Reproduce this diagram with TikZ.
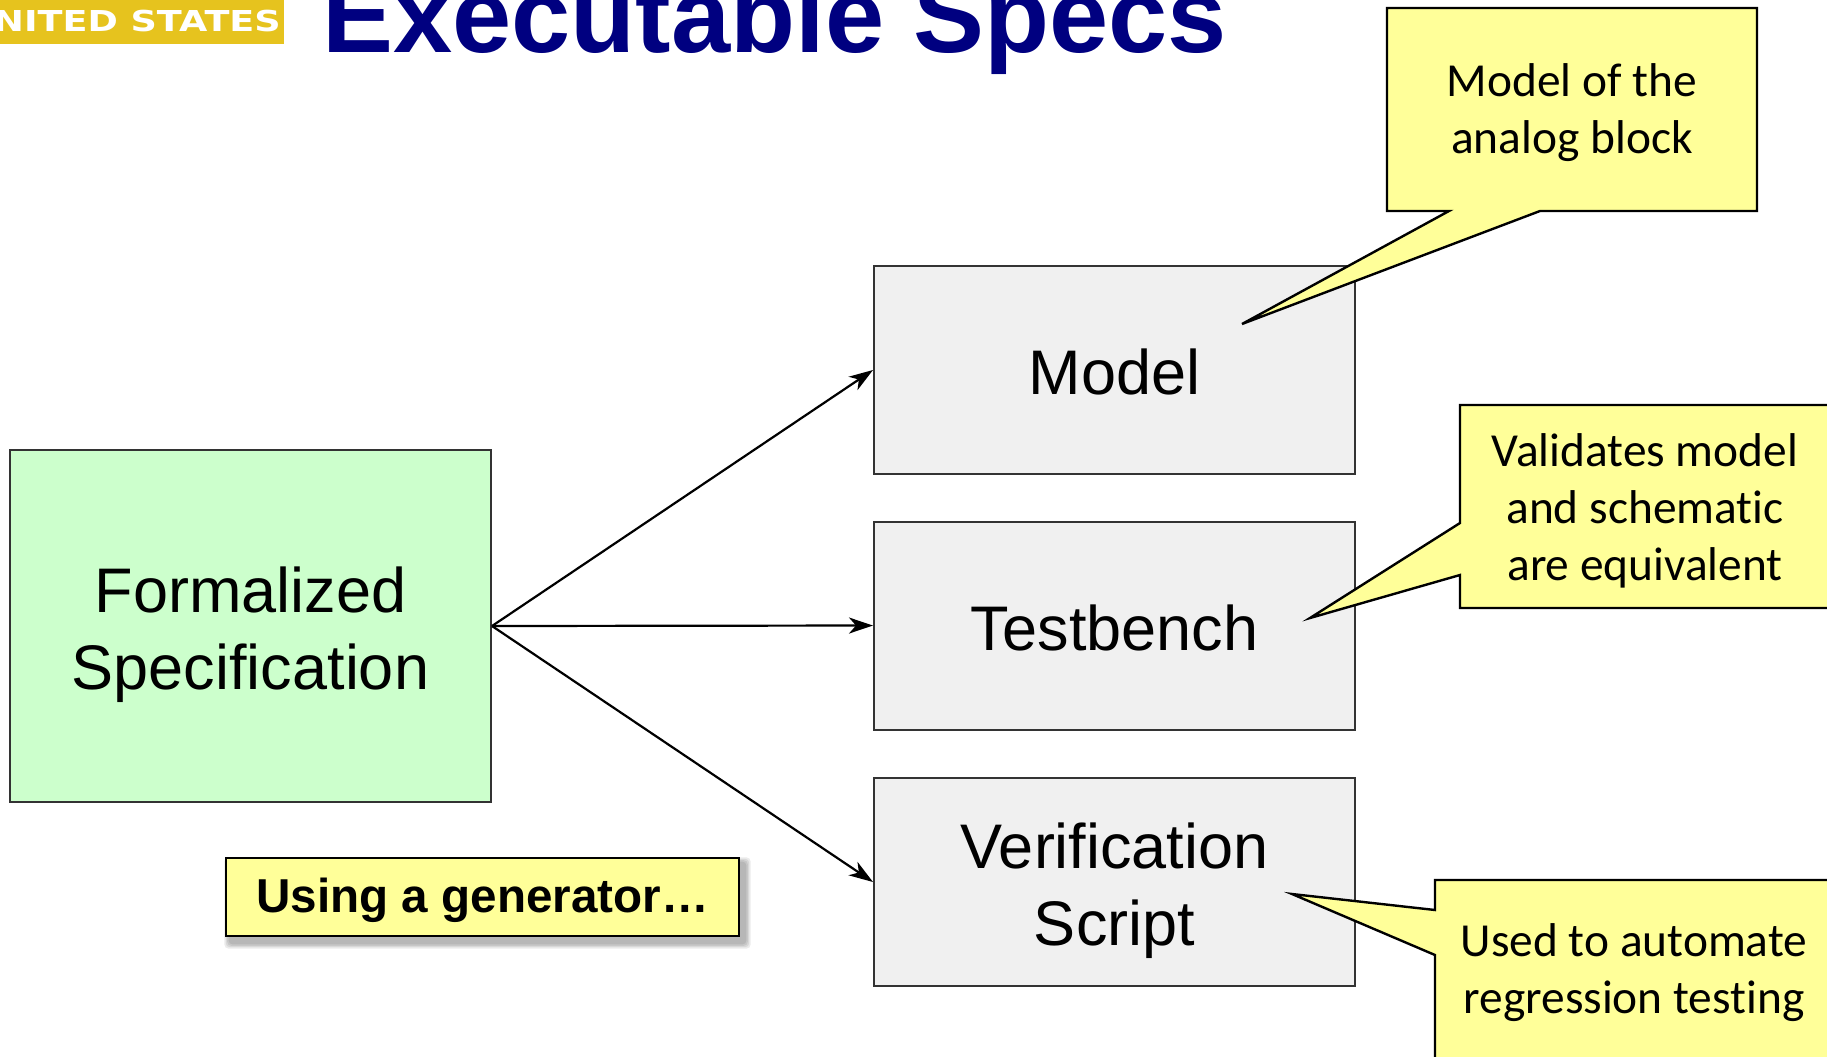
\documentclass[tikz,border=0pt]{standalone}
\usepackage{fontspec}
\usepackage{graphicx}
\setmainfont{Liberation Sans}
\newfontfamily\notefont[Ligatures=CommonOff]{Carlito}
\newfontfamily\logofont{DejaVu Sans}
\usetikzlibrary{arrows.meta,backgrounds}

\definecolor{specgreen}{HTML}{CCFFCC}
\definecolor{blockgray}{HTML}{F0F0F0}
\definecolor{noteyellow}{HTML}{FFFF99}
\definecolor{titlenavy}{HTML}{000080}
\definecolor{logogold}{HTML}{E6C31E}

% strut that lowers the first line of the block labels slightly
\newcommand{\lowstrut}[1]{\rule{0pt}{#1}}

\begin{document}
\begin{tikzpicture}[x=0.5pt, y=-0.5pt,
  boxtext/.style={font=\fontsize{31.5}{38.5}\selectfont},
  block/.style={boxtext, draw=black!80, line width=1pt, fill=blockgray,
    minimum width=240.5pt, minimum height=104pt, inner sep=0pt, align=center},
  flow/.style={draw, line width=1.1pt, -{Stealth[length=12pt,width=8pt,inset=3.5pt]}},
  note/.style={draw=black, line width=1.2pt, fill=noteyellow, line join=miter},
  notetext/.style={inner sep=0pt, align=center,
    font=\notefont\fontsize{23.7}{28.5}\selectfont},
]
\useasboundingbox (0,0) rectangle (1827,1056);
\begin{scope}[on background layer]
  \fill[white] (0,0) rectangle (1827,1056);
\end{scope}

% header strip and title
\fill[logogold] (0,0) rectangle (284,44);
\node[anchor=base west, inner sep=0pt, text=white,
  font=\logofont\bfseries\fontsize{14.4}{14.4}\selectfont] (logo) at (-7,31.5)
  {\scalebox{1.27}[1]{NITED STATES}};
\node[anchor=base west, inner sep=0pt, text=titlenavy,
  font=\bfseries\fontsize{53.2}{60}\selectfont] (title) at (322,52)
  {Executable Specs};

% specification and generated artefacts
\node[boxtext, draw=black!80, line width=1pt, fill=specgreen,
  minimum width=240.5pt, minimum height=176pt, inner sep=0pt, align=center]
  (spec) at (250.5,626) {\lowstrut{32pt}Formalized\\Specification};

\node[block] (model)  at (1114.5,370)   {\lowstrut{25pt}Model};
\node[block] (bench)  at (1114.5,625.5) {\lowstrut{25pt}Testbench};
\node[block] (script) at (1114.5,882)   {\lowstrut{32pt}Verification\\Script};

\draw[flow] (spec.east) -- (model.west);
\draw[flow] (spec.east) -- (bench.west);
\draw[flow] (spec.east) -- (script.west);

% generator label with soft shadow
\node[draw=black, line width=1pt, fill=noteyellow, minimum width=256.5pt,
  minimum height=39pt, inner sep=0pt,
  font=\bfseries\fontsize{23.8}{28}\selectfont] (gen) at (482.5,897)
  {\lowstrut{20.5pt}Using a generator…};
\begin{scope}[on background layer]
  \foreach \k in {1,...,4}
    \fill[black, opacity=0.08, rounded corners=2pt]
      ([shift={({2.5pt-\k*0.7pt},{-3pt+\k*0.7pt})}]gen.north west)
      rectangle ([shift={({2.5pt+\k*0.7pt},{-3pt-\k*0.7pt})}]gen.south east);
\end{scope}

% callouts
\coordinate (tip1) at (1242,324);
\draw[note] (1387,8) -- (1757,8) -- (1757,211) -- (1540,211) -- (tip1)
  -- (1449,211) -- (1387,211) -- cycle;
\node[notetext] (note1) at (1572,113) {Model of the\\analog block};

\coordinate (tip2) at (1310,618);
\draw[note] (1460,405) -- (1835,405) -- (1835,608) -- (1460,608)
  -- (1460,575) -- (tip2) -- (1460,523) -- cycle;
\node[notetext] (note2) at (1645,511) {Validates model\\and schematic\\are equivalent};

\coordinate (tip3) at (1292,894);
\draw[note] (1435,880) -- (1835,880) -- (1835,1065) -- (1435,1065)
  -- (1435,955) -- (tip3) -- (1435,910) -- cycle;
\node[notetext] (note3) at (1634,973) {Used to automate\\regression testing};
\end{tikzpicture}
\end{document}
